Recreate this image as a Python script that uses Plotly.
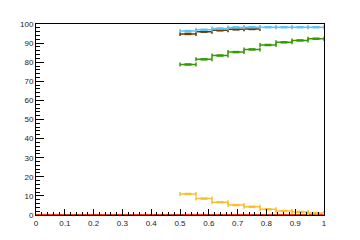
import plotly.graph_objects as go

# bin centres (9 bins from 0.5 to 1.0)
bin_centers = [0.5278, 0.5833, 0.6389, 0.6944, 0.7500, 0.8056, 0.8611, 0.9167, 0.9722]
bin_half = 0.02778

cyan_values = [96.3, 97.0, 97.6, 98.2, 98.3, 98.3, 98.3, 98.3, 98.3]
brown_values = [94.8, 96.0, 96.7, 97.2, 97.4]
green_values = [78.8, 81.5, 83.5, 85.3, 86.7, 89.0, 90.4, 91.4, 92.3]
yellow_values = [11.0, 8.6, 6.7, 5.2, 4.3, 3.0, 2.1, 1.6, 1.0]

red_x = [0.0, 1.0]
red_values = [0.0, 0.0]

x_ticks = [0, 0.1, 0.2, 0.3, 0.4, 0.5, 0.6, 0.7, 0.8, 0.9, 1]
x_labels = ["0", "0.1", "0.2", "0.3", "0.4", "0.5", "0.6", "0.7", "0.8", "0.9", "1"]
y_ticks = [0, 10, 20, 30, 40, 50, 60, 70, 80, 90, 100]

fig = go.Figure()

fig.add_trace(go.Scatter(x=red_x, y=red_values, mode="lines",
                         line=dict(color="#ff3000", width=2), showlegend=False))


def add_series(values, color):
    xs = bin_centers[:len(values)]
    fig.add_trace(go.Scatter(
        x=xs, y=values, mode="markers",
        marker=dict(symbol="line-ew", size=5, color=color,
                    line=dict(color=color, width=2.5)),
        error_x=dict(type="constant", value=bin_half, color=color, thickness=1.5, width=2),
        showlegend=False))


add_series(yellow_values, "#f8c030")
add_series(green_values, "#349a00")
add_series(brown_values, "#6e3a00")
add_series(cyan_values, "#5ec4f6")

axis_font = dict(family="Liberation Sans, Arial, sans-serif", size=8, color="#222222")

fig.update_layout(
    width=360, height=240,
    margin=dict(l=36, r=36, t=24, b=25),
    paper_bgcolor="white", plot_bgcolor="white",
    xaxis=dict(range=[0, 1], tickvals=x_ticks, ticktext=x_labels,
               ticks="inside", ticklen=6, tickwidth=1, tickcolor="black",
               minor=dict(dtick=0.02, ticks="inside", ticklen=3, tickcolor="black"),
               showline=True, linecolor="black", linewidth=1, mirror=True,
               showgrid=False, zeroline=False, tickfont=axis_font),
    yaxis=dict(range=[0, 100], tickvals=y_ticks,
               ticks="inside", ticklen=8, tickwidth=1, tickcolor="black",
               minor=dict(dtick=2, ticks="inside", ticklen=4, tickcolor="black"),
               showline=True, linecolor="black", linewidth=1, mirror=True,
               showgrid=False, zeroline=False, tickfont=axis_font),
)

fig.write_html("out.html")
